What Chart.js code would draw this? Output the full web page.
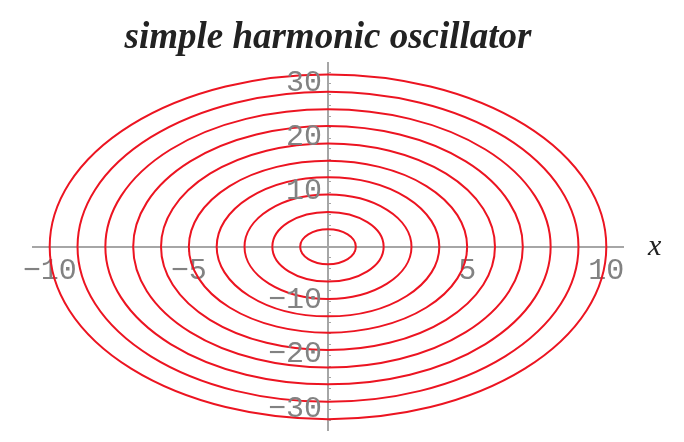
<!DOCTYPE html>
<html>
<head>
<meta charset="utf-8">
<script src="https://cdn.jsdelivr.net/npm/chart.js@4"></script>
<style>
  body { margin: 0; background: #fff; }
  #wrap { width: 684px; height: 442px; }
</style>
</head>
<body>
<div id="wrap"><canvas id="phase" width="684" height="442"></canvas></div>
<script>
// turning points of each orbit: position amplitude and momentum amplitude
var xAmp = [1, 2, 3, 4, 5, 6, 7, 8, 9, 10];
var pAmp = [3.2, 6.4, 9.6, 12.8, 15.8, 19.0, 22.2, 25.3, 28.5, 31.7];
var xLabels = [-10, -5, 5, 10];
var yLabels = [-30, -20, -10, 10, 20, 30];

var axisGray = '#a6a6a6';
var labelGray = '#828282';
var tickFont = '"Liberation Mono"';

function fmt(v) {
  return v < 0 ? '\u2212' + (-v) : String(v);
}

// each orbit is stored as its four vertices, the ellipse is traced through them
var datasets = xAmp.map(function (a, i) {
  var p = pAmp[i];
  return {
    data: [{x: a, y: 0}, {x: 0, y: p}, {x: -a, y: 0}, {x: 0, y: -p}],
    pointRadius: 0,
    showLine: false,
    borderColor: '#ec1421'
  };
});

var orbitPlugin = {
  id: 'orbits',
  afterDatasetsDraw: function (chart) {
    var ctx = chart.ctx;
    var xs = chart.scales.x, ys = chart.scales.y;
    ctx.save();
    chart.data.datasets.forEach(function (ds, i) {
      var pts = chart.getDatasetMeta(i).data;
      var cx = (pts[0].x + pts[2].x) / 2;
      var cy = (pts[1].y + pts[3].y) / 2;
      var rx = (pts[0].x - pts[2].x) / 2;
      var ry = (pts[3].y - pts[1].y) / 2;
      ctx.beginPath();
      ctx.ellipse(cx, cy, rx, ry, 0, 0, Math.PI * 2);
      ctx.strokeStyle = ds.borderColor;
      ctx.lineWidth = 2;
      ctx.stroke();
    });

    // y tick labels sit just left of the vertical axis
    var x0 = xs.getPixelForValue(0);
    var y0 = ys.getPixelForValue(0);
    ctx.fillStyle = labelGray;
    ctx.font = '30px ' + tickFont;
    ctx.textAlign = 'right';
    ctx.textBaseline = 'middle';
    yLabels.forEach(function (v) {
      ctx.fillText(fmt(v), x0 - 6, ys.getPixelForValue(v) - 1);
    });

    // axis name at the right end of the x axis
    ctx.fillStyle = '#222';
    ctx.font = 'italic 30px "Liberation Serif"';
    ctx.textAlign = 'left';
    ctx.fillText('x', chart.chartArea.right + 25, y0);
    ctx.restore();
  }
};

function keepIntegers(scale) {
  scale.ticks = scale.ticks.filter(function (t) { return Number.isInteger(t.value); });
}

new Chart(document.getElementById('phase'), {
  type: 'scatter',
  data: { datasets: datasets },
  plugins: [orbitPlugin],
  options: {
    responsive: false,
    animation: false,
    layout: { padding: { left: 33, right: 61, top: 0, bottom: 12 } },
    plugins: {
      legend: { display: false },
      tooltip: { enabled: false },
      title: {
        display: true,
        text: 'simple harmonic oscillator',
        color: '#222',
        font: { family: '"Liberation Serif"', size: 37, style: 'italic', weight: 'bold', lineHeight: 1.2 },
        padding: { top: 15.8, bottom: 2.8 }
      }
    },
    scales: {
      x: {
        type: 'linear',
        min: -10.6,
        max: 10.6,
        position: { y: 0 },
        afterBuildTicks: keepIntegers,
        border: { color: axisGray, width: 2 },
        grid: { drawOnChartArea: false, tickLength: 4, color: axisGray, tickColor: axisGray },
        ticks: {
          stepSize: 1,
          includeBounds: false,
          autoSkip: false,
          maxRotation: 0,
          color: labelGray,
          padding: 2,
          font: { family: tickFont, size: 30 },
          callback: function (v) { return xLabels.indexOf(v) >= 0 ? fmt(v) : ''; }
        }
      },
      y: {
        type: 'linear',
        min: -33.7,
        max: 33.8,
        position: { x: 0 },
        afterBuildTicks: keepIntegers,
        border: { color: axisGray, width: 2 },
        // minor ticks point into the right half, as on the horizontal axis labels side
        grid: { drawOnChartArea: false, tickLength: -4, color: axisGray, tickColor: axisGray },
        ticks: {
          stepSize: 2,
          includeBounds: false,
          autoSkip: false,
          callback: function () { return ''; }
        }
      }
    }
  }
});
</script>
</body>
</html>
